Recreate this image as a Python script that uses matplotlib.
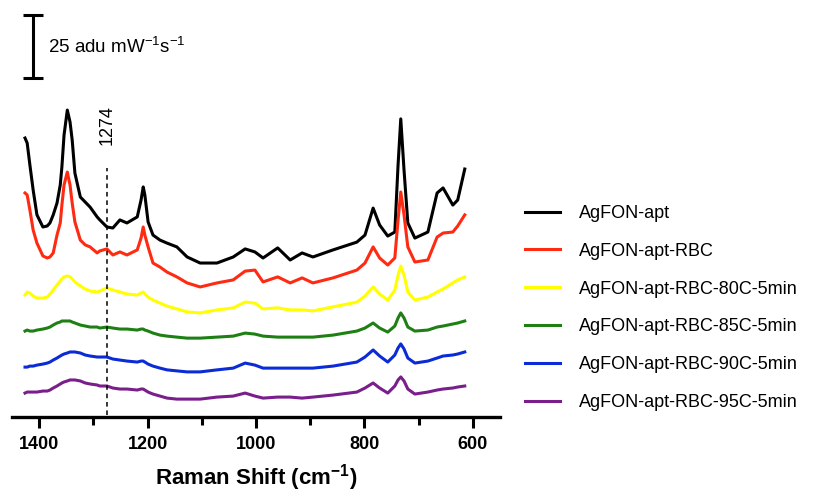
import matplotlib.pyplot as plt
import numpy as np

plt.rcParams['font.family'] = ['Liberation Sans', 'DejaVu Sans']
plt.rcParams['mathtext.fontset'] = 'custom'
plt.rcParams['mathtext.rm'] = 'Liberation Sans'
plt.rcParams['mathtext.bf'] = 'Liberation Sans:bold'

# Raman shift grid (cm-1) shared by all spectra
shift = [1426, 1422, 1417, 1411, 1404, 1393, 1385, 1380, 1374, 1367,
         1361, 1358, 1354, 1348, 1343, 1339, 1334, 1324, 1315, 1306,
         1293, 1288, 1275, 1264, 1251, 1238, 1219, 1212, 1208, 1205,
         1199, 1190, 1177, 1164, 1146, 1127, 1103, 1072, 1042, 1020,
         1002, 987, 960, 937, 915, 895, 858, 814, 799, 784,
         772, 757, 744, 738, 733, 727, 720, 707, 683, 666,
         655, 637, 628, 615]

# stacked intensities (adu mW-1 s-1, offsets included)
agfon_apt = [110.7, 108.7, 100.0, 90.1, 80.2, 75.4, 75.8, 77.0, 80.2, 84.9,
             92.1, 99.2, 111.9, 121.8, 117.1, 109.9, 96.8, 87.3, 85.3, 83.3,
             79.4, 78.2, 75.4, 75.0, 78.2, 77.0, 79.4, 86.1, 91.3, 88.1,
             77.4, 72.2, 70.2, 69.0, 67.5, 63.5, 61.1, 61.1, 63.5, 66.7,
             65.5, 63.1, 67.1, 62.3, 65.1, 63.5, 66.3, 69.4, 72.2, 82.9,
             76.2, 71.8, 73.4, 100.0, 118.3, 98.0, 77.0, 71.0, 73.4, 88.9,
             90.9, 84.1, 86.1, 98.4]
agfon_rbc = [88.9, 88.1, 82.1, 74.2, 69.0, 63.9, 63.1, 63.5, 65.1, 72.2,
             77.0, 84.1, 92.1, 97.2, 92.1, 84.9, 77.4, 70.2, 68.3, 67.5,
             65.1, 65.9, 66.7, 64.3, 65.5, 64.3, 66.3, 71.0, 75.4, 72.2,
             67.5, 61.1, 59.5, 57.5, 55.6, 53.2, 51.6, 53.2, 54.4, 57.9,
             58.3, 53.6, 55.6, 53.2, 55.2, 53.2, 55.2, 58.3, 61.1, 67.5,
             63.1, 60.3, 63.1, 78.2, 89.3, 80.2, 67.5, 61.5, 62.3, 71.4,
             73.0, 73.4, 75.8, 80.2]
rbc_80c = [48.4, 49.6, 49.2, 48.0, 47.2, 47.2, 47.6, 48.8, 50.4, 52.4,
           54.0, 54.8, 55.6, 56.0, 55.6, 54.8, 53.6, 52.0, 50.8, 50.0,
           49.6, 50.0, 51.2, 50.4, 49.6, 48.8, 48.4, 49.2, 49.6, 48.8,
           47.6, 46.4, 45.2, 44.0, 42.9, 41.7, 41.3, 42.5, 43.3, 45.6,
           45.2, 42.9, 43.3, 42.5, 42.5, 42.1, 43.7, 45.6, 48.0, 51.6,
           48.8, 46.4, 50.4, 56.3, 59.9, 56.3, 49.6, 46.4, 47.6, 49.6,
           50.8, 53.2, 54.4, 55.6]
rbc_85c = [34.1, 34.5, 34.1, 34.1, 34.5, 34.9, 35.3, 35.7, 36.5, 37.3,
           37.7, 38.1, 38.1, 38.1, 38.1, 37.7, 37.3, 36.5, 36.1, 35.7,
           35.7, 35.3, 35.7, 35.3, 34.9, 34.9, 34.5, 34.9, 34.9, 34.5,
           34.1, 33.3, 32.5, 32.1, 31.7, 31.3, 31.3, 31.7, 32.1, 33.3,
           32.9, 32.1, 31.7, 31.7, 31.7, 31.7, 32.5, 34.1, 35.3, 37.3,
           35.3, 33.7, 36.1, 39.3, 41.3, 39.3, 35.7, 34.1, 34.5, 35.7,
           36.1, 36.9, 37.3, 38.1]
rbc_90c = [19.8, 19.8, 20.2, 20.2, 20.6, 21.0, 21.4, 21.8, 22.6, 23.4,
           24.2, 24.6, 25.0, 25.4, 25.8, 25.8, 25.8, 25.4, 24.6, 24.2,
           23.8, 23.8, 23.8, 23.0, 22.6, 22.2, 21.8, 22.2, 22.2, 21.8,
           21.0, 20.2, 19.4, 18.7, 18.3, 17.9, 17.9, 18.7, 19.4, 21.4,
           20.6, 19.4, 19.4, 19.4, 19.4, 19.4, 20.2, 21.8, 23.8, 26.6,
           24.2, 21.8, 24.6, 27.4, 29.0, 27.0, 23.4, 21.4, 22.2, 23.4,
           24.2, 24.6, 25.0, 25.8]
rbc_95c = [9.5, 9.9, 9.9, 9.9, 9.9, 10.3, 10.3, 10.7, 11.5, 12.3,
           13.1, 13.5, 13.9, 14.3, 14.7, 14.7, 14.7, 14.3, 13.5, 13.1,
           12.7, 12.3, 12.3, 11.5, 11.1, 11.1, 10.7, 11.1, 11.1, 10.7,
           9.9, 9.1, 8.3, 7.5, 7.1, 7.1, 7.1, 7.9, 8.3, 9.5,
           8.3, 7.5, 7.9, 7.9, 7.5, 7.9, 8.7, 9.9, 11.5, 13.5,
           11.5, 9.5, 12.3, 14.7, 15.9, 14.3, 11.1, 9.1, 9.9, 10.7,
           11.1, 11.5, 11.9, 12.3]

labels = ['AgFON-apt', 'AgFON-apt-RBC', 'AgFON-apt-RBC-80C-5min',
          'AgFON-apt-RBC-85C-5min', 'AgFON-apt-RBC-90C-5min', 'AgFON-apt-RBC-95C-5min']
colors = ['#000000', '#FF2A12', '#FFFF00', '#1E8014', '#0B2BD6', '#7A1E8C']
spectra = [agfon_apt, agfon_rbc, rbc_80c, rbc_85c, rbc_90c, rbc_95c]

marker_shift = 1274
scale_bar = 25

fig = plt.figure(figsize=(8.35, 4.96), dpi=100)
ax = fig.add_axes([12 / 835, 1 - 417 / 496, 488 / 835, 417 / 496])

for y, c, lab in zip(spectra, colors, labels):
    ax.plot(shift, y, color=c, lw=2.2, label=lab, solid_joinstyle='round')

# dashed marker line at 1274
ax.plot([marker_shift, marker_shift], [0.8, 99], color='black', lw=1.1, ls=(0, (3, 2.5)))
ax.text(marker_shift, 116, str(marker_shift), rotation=90, ha='center', va='center',
        fontsize=13)

# intensity scale bar
ax.errorbar([1411], [147], yerr=[[scale_bar / 2], [scale_bar / 2]], color='black',
            lw=2.2, capsize=7, capthick=2.2, fmt='none')
ax.text(1384, 147, '25 adu mW$^{-1}$s$^{-1}$', ha='left', va='center', fontsize=13.5)

ax.set_xlim(1450, 550)
ax.set_ylim(0, 417 / 2.52)
ax.set_xticks([1400, 1200, 1000, 800, 600])
ax.set_xticks([1300, 1100, 900, 700], minor=True)
for lbl in ax.get_xticklabels():
    lbl.set_fontweight('bold')
ax.tick_params(axis='x', which='major', length=8, width=2.2, labelsize=13, pad=6)
ax.tick_params(axis='x', which='minor', length=6, width=2.2)
ax.set_yticks([])
for s in ['left', 'right', 'top']:
    ax.spines[s].set_visible(False)
ax.spines['bottom'].set_linewidth(2.4)
ax.set_xlabel('Raman Shift (cm$^{\\mathbf{-1}}$)', fontsize=16, fontweight='bold', labelpad=6)

ax.legend(loc='upper left', bbox_to_anchor=(525 / 835, 1 - 205 / 496), bbox_transform=fig.transFigure,
          frameon=False, fontsize=13, handlelength=1.95, handletextpad=1.05,
          labelspacing=1.15, borderpad=0, borderaxespad=0)

fig.savefig('out.png', dpi=100)
